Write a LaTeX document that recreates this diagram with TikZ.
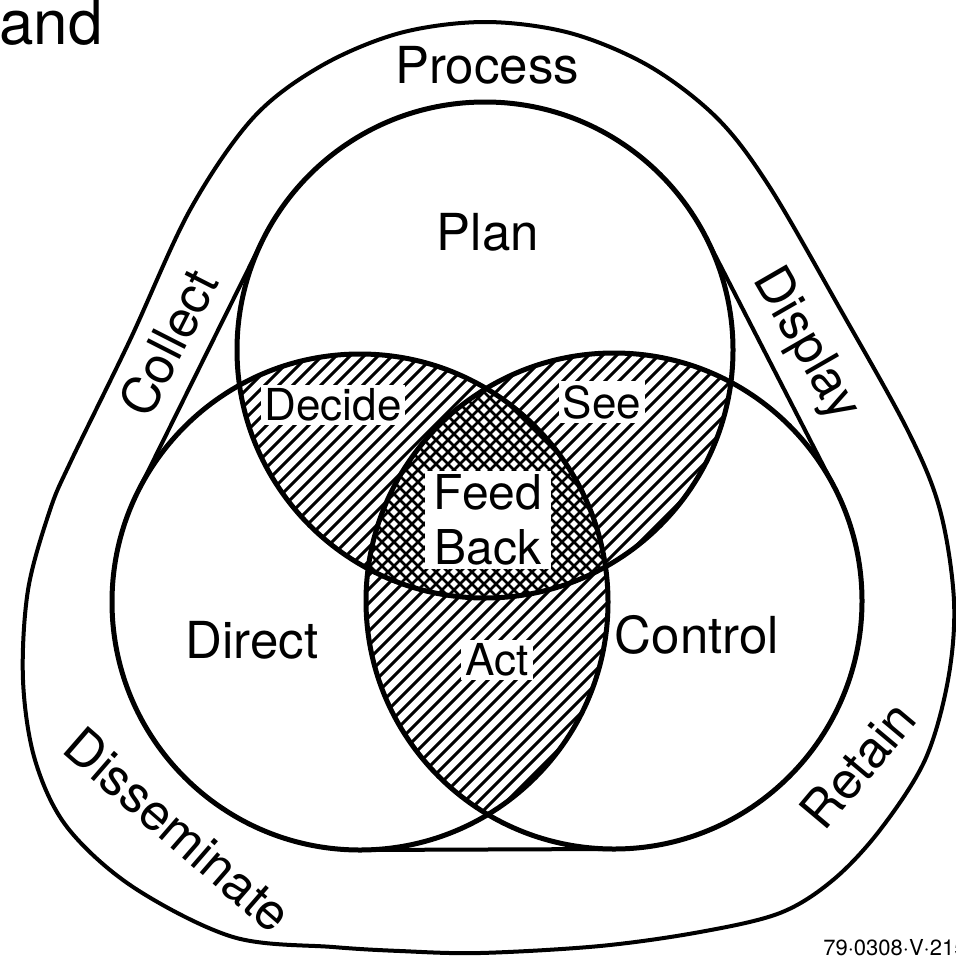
\documentclass[tikz,border=0pt]{standalone}
\usepackage{fontspec}
\setmainfont{TeX Gyre Heros}
\usetikzlibrary{calc}

\newcommand\wordsize{\fontsize{25.5}{30}\selectfont}
\newcommand\lenssize{\fontsize{22}{27.5}\selectfont}

\begin{document}
\begin{tikzpicture}[x=0.5pt, y=-0.5pt, line join=round, line cap=round]

  % ===== Styles =====
  \tikzset{
    ring/.style={line width=2.5pt},
    hull/.style={line width=2pt},
    rim/.style={line width=2pt},
    hatch/.style={line width=1.5pt},
    cross/.style={line width=1.3pt},
    word/.style={font=\wordsize, inner sep=0pt},
    boxword/.style={font=\lenssize, fill=white, inner sep=2pt},
  }

  % fixed frame, same shape as the scan
  \useasboundingbox (0,0) rectangle (956,958);

  % ===== Circle centres =====
  \coordinate (plan) at (485,350);
  \coordinate (direct) at (360,602);
  \coordinate (control) at (614,601);
  \def\rad{248}

  % ===== Hatched lenses =====
  \begin{scope}
    \clip (plan) circle[radius=\rad];
    \clip (direct) circle[radius=\rad];
    \foreach \c in {300,314,...,1500} \draw[hatch] (\c,0) -- ++(-1000,1000);
  \end{scope}
  \begin{scope}
    \clip (plan) circle[radius=\rad];
    \clip (control) circle[radius=\rad];
    \foreach \c in {300,314,...,1500} \draw[hatch] (\c,0) -- ++(-1000,1000);
  \end{scope}
  \begin{scope}
    \clip (direct) circle[radius=\rad];
    \clip (control) circle[radius=\rad];
    \foreach \c in {300,314,...,1500} \draw[hatch] (\c,0) -- ++(-1000,1000);
  \end{scope}
  % centre: cross hatch
  \begin{scope}
    \clip (plan) circle[radius=\rad];
    \clip (direct) circle[radius=\rad];
    \clip (control) circle[radius=\rad];
    \fill[white] (0,0) rectangle (956,958);
    \foreach \c in {300,312,...,1500} \draw[cross] (\c,0) -- ++(-1000,1000);
    \foreach \c in {-400,-388,...,400} \draw[cross] (\c,0) -- ++(1000,1000);
  \end{scope}

  % ===== Circles =====
  \draw[ring] (plan) circle[radius=\rad];
  \draw[ring] (direct) circle[radius=\rad];
  \draw[ring] (control) circle[radius=\rad];

  % ===== Inner hull (tangents) =====
  \coordinate (pl) at ($(plan)!124pt!-90:(direct)$);
  \coordinate (dl) at ($(direct)!124pt!90:(plan)$);
  \coordinate (pr) at ($(plan)!124pt!90:(control)$);
  \coordinate (cr) at ($(control)!124pt!-90:(plan)$);
  \coordinate (db) at ($(direct)!124pt!-90:(control)$);
  \coordinate (cb) at ($(control)!124pt!90:(direct)$);
  \draw[hull] (pl) -- (dl);
  \draw[hull] (pr) -- (cr);
  \draw[hull] (db) -- (cb);

  % ===== Outer band =====
  \draw[rim] plot[smooth cycle, tension=0.55] coordinates {
    (253,118) (321,66) (400,33) (485,22) (570,33) (649,66) (717,118) (769,186)
    (839,307) (908,431) (940,510) (954,601) (948,680) (925,760) (880,830)
    (833,880) (780,913) (700,932) (600,946) (480,953) (400,951) (333,947)
    (233,937) (133,887) (67,827) (35,760) (23,680) (28,590) (50,510) (71,461)
    (130,340) (190,210)};

  % ===== Labels =====
  \node[word, anchor=base] (process) at (487,83) {Process};
  \node[word, anchor=base] (planlbl) at (488,250) {Plan};
  \node[word, anchor=base] (directlbl) at (252,658) {Direct};
  \node[word, anchor=base] (controllbl) at (697,653) {Control};
  \node[word, rotate=63] (collect) at (168,343) {Collect};
  \node[word, rotate=-60] (display) at (805,345) {Display};
  \node[word, rotate=50] (retain) at (858,765) {Retain};
  \node[word, rotate=-41] (disseminate) at (178,830) {Disseminate};

  \node[boxword] (decide) at (333,405) {Decide};
  \node[boxword] (see) at (602,402) {See};
  \node[boxword] (act) at (497,660) {Act};
  \node[boxword, font=\fontsize{24}{27.5}\selectfont, align=center,
    minimum width=63pt, minimum height=48pt] (feedback) at (488,520) {Feed\\Back};

  \node[font=\fontsize{31}{36}\selectfont, anchor=base west, inner sep=0pt]
    (head) at (-1,44) {and};
  \node[font=\fontsize{11}{13}\selectfont, anchor=base west, inner sep=0pt]
    (code) at (823,955) {79·0308·V·215};

\end{tikzpicture}
\end{document}
